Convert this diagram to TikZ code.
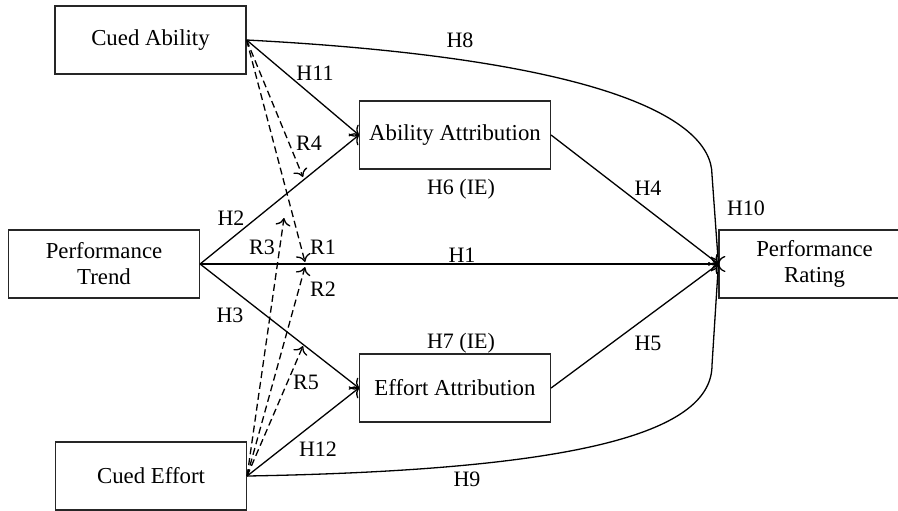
\documentclass[tikz,border=0pt]{standalone}
\usepackage{fontspec}
\setmainfont{Liberation Serif}
\usetikzlibrary{positioning,arrows.meta}

\begin{document}
\begin{tikzpicture}[
  x=0.5pt, y=-0.5pt,
  box/.style={draw=black!85, line width=0.6pt, align=center, minimum width=95.5pt, minimum height=34pt, inner sep=2pt, font=\fontsize{11.4}{13}\selectfont},
  lab/.style={font=\fontsize{11}{12}\selectfont, inner sep=0pt},
  arrow/.style={-{To[length=3.8pt,width=7.5pt]}, line width=0.65pt},
  modarrow/.style={arrow, dash pattern=on 3.5pt off 2pt}
]
\useasboundingbox (0,0) rectangle (898,510);

% Boxes: left column, middle column, outcome
\node[box] (ca) at (150.5,40) {Cued Ability};
\node[box] (pt) at (104,264) {Performance\\Trend};
\node[box] (ce) at (151,476) {Cued Effort};
\node[box] (aa) at (455,135) {Ability Attribution};
\node[box] (ea) at (455,388) {Effort Attribution};
\node[box] (pr) at (814.5,264) {Performance\\Rating};

% Ends of the moderation arrows (on the paths they point at)
\coordinate (r4end) at (303,177);
\coordinate (r1end) at (305,262);
\coordinate (r3end) at (284,218);
\coordinate (r2end) at (305,267);
\coordinate (r5end) at (303,346);

% Paths
\draw[arrow] (ca.east) -- (aa.west);
\draw[arrow] (pt.east) -- (aa.west);
\draw[arrow] (pt.east) -- (pr.west);
\draw[arrow] (pt.east) -- (ea.west);
\draw[arrow] (ce.east) -- (ea.west);
\draw[arrow] (aa.east) -- (pr.west);
\draw[arrow] (ea.east) -- (pr.west);
\draw[arrow] (ca.east) .. controls (590,58) and (712,115) .. (712,175) -- (pr.west);
\draw[arrow] (ce.east) .. controls (590,470) and (712,430) .. (712,365) -- (pr.west);

% Moderation (dashed)
\draw[modarrow] (ca.east) -- (r4end);
\draw[modarrow] (ca.east) -- (r1end);
\draw[modarrow] (ce.east) -- (r3end);
\draw[modarrow] (ce.east) -- (r2end);
\draw[modarrow] (ce.east) -- (r5end);

% Labels
\node[lab] (lH8) at (460,40) {H8};
\node[lab] (lH11) at (315,73) {H11};
\node[lab] (lR4) at (309,143) {R4};
\node[lab] (lH6) at (461,189) {H6 (IE)};
\node[lab] (lH4) at (648,188) {H4};
\node[lab] (lH10) at (746,208) {H10};
\node[lab] (lH2) at (231,218) {H2};
\node[lab] (lR3) at (262,247) {R3};
\node[lab] (lR1) at (323,247) {R1};
\node[lab] (lH1) at (462,255) {H1};
\node[lab] (lR2) at (323,289) {R2};
\node[lab] (lH3) at (230,315) {H3};
\node[lab] (lH7) at (461,343) {H7 (IE)};
\node[lab] (lH5) at (648,343) {H5};
\node[lab] (lR5) at (306,382) {R5};
\node[lab] (lH12) at (318,449) {H12};
\node[lab] (lH9) at (467,479) {H9};
\end{tikzpicture}
\end{document}
